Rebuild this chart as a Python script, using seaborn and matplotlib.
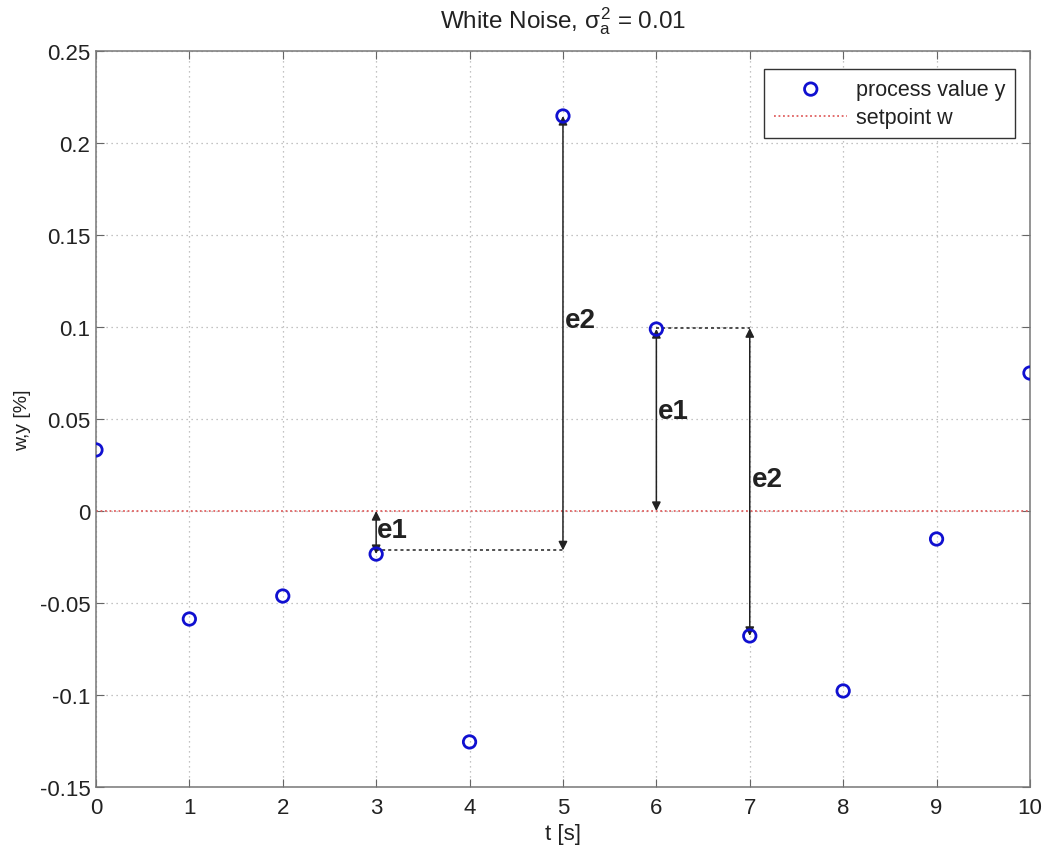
import numpy as np
import pandas as pd
import matplotlib
matplotlib.use("Agg")
import matplotlib.pyplot as plt
import seaborn as sns

# time samples and measured process values
t = [0, 1, 2, 3, 4, 5, 6, 7, 8, 9, 10]
y = [0.0332, -0.0587, -0.0462, -0.0234, -0.1255, 0.2147, 0.0989, -0.0679, -0.0978, -0.0152, 0.075]
w = [0.0] * len(t)

xticks = list(range(0, 11))
yticks = [-0.15, -0.1, -0.05, 0, 0.05, 0.1, 0.15, 0.2, 0.25]
ytick_labels = ["-0.15", "-0.1", "-0.05", "0", "0.05", "0.1", "0.15", "0.2", "0.25"]

sns.set_theme(style="white")
plt.rcParams["font.family"] = ["Liberation Sans", "DejaVu Sans"]
plt.rcParams["mathtext.fontset"] = "custom"
plt.rcParams["mathtext.rm"] = "Liberation Sans"
plt.rcParams["mathtext.it"] = "Liberation Sans"

df = pd.DataFrame({"t": t, "y": y, "w": w})

fig = plt.figure(figsize=(10.43, 8.53), dpi=100)
ax = fig.add_axes([0.092, 0.0762, 0.8955, 0.8628])

sns.lineplot(data=df, x="t", y="w", ax=ax, color="#e06060", linestyle=(0, (1, 1.5)),
             linewidth=1.3, label="setpoint w", zorder=2)
sns.scatterplot(data=df, x="t", y="y", ax=ax, marker="o", s=80, facecolors="none",
                edgecolor="#1010d0", linewidth=2.0, label="process value y", zorder=4)

ax.set_xlim(0, 10)
ax.set_ylim(-0.15, 0.25)
ax.set_xticks(xticks)
ax.set_yticks(yticks)
ax.set_yticklabels(ytick_labels)
ax.grid(True, color="#b0b0b0", linestyle=(0, (1, 3)), linewidth=0.9)
ax.tick_params(direction="in", length=6, width=0.8, color="#666666", labelsize=16,
               labelcolor="#222222", top=True, right=True, bottom=True, left=True, pad=4)
ax.tick_params(axis="x", pad=7)
for s in ax.spines.values():
    s.set_color("#777777")
    s.set_linewidth(1.1)

ax.set_xlabel("t [s]", fontsize=16, labelpad=4, color="#222222")
ax.set_ylabel("w,y [%]", fontsize=14, labelpad=6, color="#222222")
ax.set_title(r"White Noise, $\sigma_a^2$ = 0.01", fontsize=17.5, pad=17, color="#222222")

# error annotations
arrow_kw = dict(arrowstyle="<|-|>", color="#222222", lw=1.1, mutation_scale=13, shrinkA=0, shrinkB=0)
dash_kw = dict(color="#222222", linestyle=(0, (2, 2)), linewidth=1.1, zorder=3)

ax.annotate("", xy=(3, 0), xytext=(3, y[3]), arrowprops=arrow_kw)
ax.plot([3, 5], [y[3] + 0.002, y[3] + 0.002], **dash_kw)
ax.annotate("", xy=(5, y[5]), xytext=(5, y[3] + 0.002), arrowprops=arrow_kw)
ax.annotate("", xy=(6, y[6]), xytext=(6, 0), arrowprops=arrow_kw)
ax.plot([6, 7], [y[6] + 0.0005, y[6] + 0.0005], **dash_kw)
ax.annotate("", xy=(7, y[6] + 0.0005), xytext=(7, y[7]), arrowprops=arrow_kw)

lbl_kw = dict(fontsize=20, fontweight="bold", color="#222222", ha="left", va="center")
ax.text(3.01, -0.0103, "e1", **lbl_kw)
ax.text(5.02, 0.1038, "e2", **lbl_kw)
ax.text(6.02, 0.0543, "e1", **lbl_kw)
ax.text(7.02, 0.0174, "e2", **lbl_kw)

handles, labels = ax.get_legend_handles_labels()
order = [labels.index("process value y"), labels.index("setpoint w")]
leg = ax.legend([handles[i] for i in order], [labels[i] for i in order], loc="upper right",
                bbox_to_anchor=(0.984, 0.9755), fontsize=15.5, frameon=True, fancybox=False,
                edgecolor="#333333", framealpha=1, borderpad=0.45, handlelength=3.4,
                handletextpad=0.4, labelspacing=0.35, borderaxespad=0)
leg.get_frame().set_linewidth(1.0)
for txt in leg.get_texts():
    txt.set_color("#222222")

fig.savefig("out.png", dpi=100)
